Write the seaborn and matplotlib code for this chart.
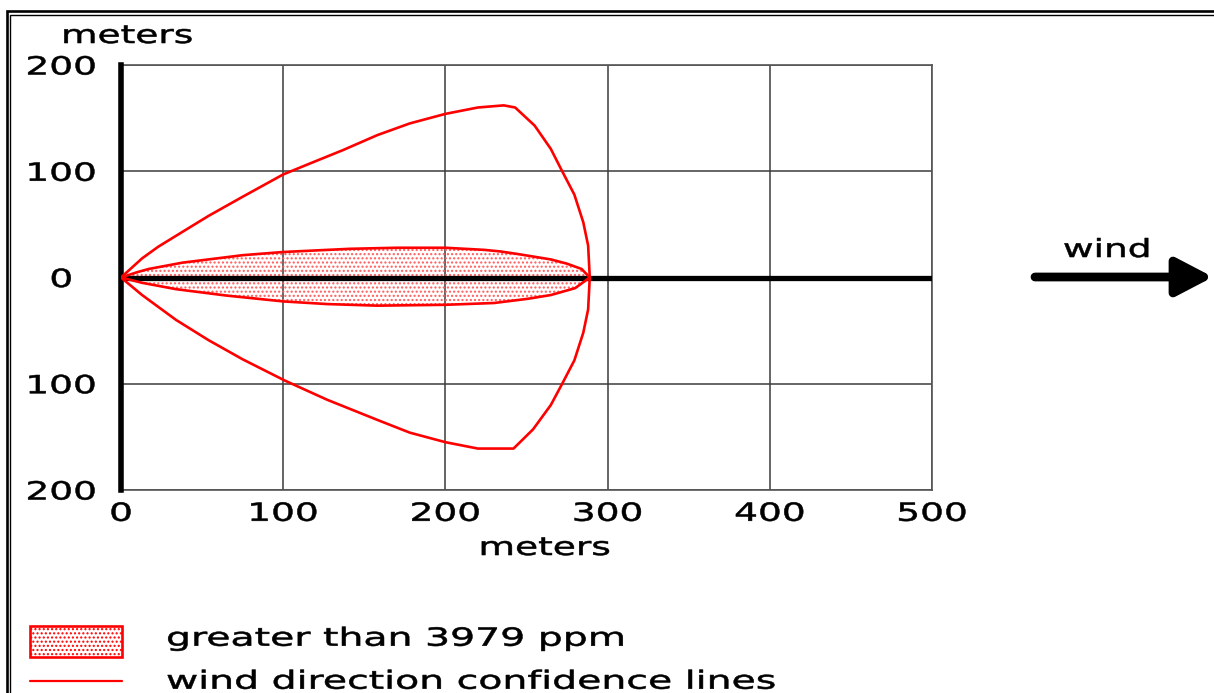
import numpy as np
import pandas as pd
import matplotlib
matplotlib.use("Agg")
import matplotlib.pyplot as plt
import seaborn as sns
from matplotlib import patheffects
from matplotlib.transforms import Affine2D
from matplotlib.patches import Patch, Rectangle
from matplotlib.lines import Line2D

# ---- threat zone data (meters downwind / crosswind) ----
zone_upper_x = [0, 10, 17, 38, 75, 100, 141, 170, 200, 224, 234, 245, 255, 265, 275, 284, 289]
zone_upper_y = [0, 5, 8, 14, 21, 24, 27, 28, 28, 26, 24.5, 22, 19.5, 17, 13, 8, 0]
zone_lower_x = [0, 13, 34, 65, 100, 127, 158, 200, 230, 251, 265, 280, 289]
zone_lower_y = [0, -5, -11, -17, -22.5, -25, -26.5, -25.7, -24, -20, -16.5, -10, 0]

# wind direction confidence lines
conf_upper_x = [0, 13, 23, 39, 54, 75, 100, 116, 137, 158, 178, 200, 220, 236, 243]
conf_upper_y = [0, 18, 29, 44, 58, 76, 97, 107, 120, 134, 145, 154, 160, 162, 160]
conf_arc_x = [243, 255, 265, 272, 279.5, 285, 288, 289, 288, 285, 279.5, 272, 265, 254, 242]
conf_arc_y = [160, 143, 121, 100, 78, 52, 30, 0, -30, -52, -78, -100, -120, -143, -161]
conf_lower_x = [242, 220, 200, 178, 158, 127, 101, 75, 54, 34, 13, 0]
conf_lower_y = [-161, -161, -155, -146, -134, -115, -97, -77, -59, -40, -16.5, 0]

x_ticks = [0, 100, 200, 300, 400, 500]
x_tick_labels = ["0", "100", "200", "300", "400", "500"]
y_ticks = [-200, -100, 0, 100, 200]
y_tick_labels = ["200", "100", "0", "100", "200"]

zone_label = "greater than 3979 ppm"
conf_label = "wind direction confidence lines"


class HStretch(patheffects.AbstractPathEffect):
    """Draw text glyphs widened horizontally around an anchor, lightly emboldened,
    optionally nudged vertically by dy pixels."""

    def __init__(self, sx=1.5, anchor="center", stroke=0.4, dy=0.0):
        super().__init__()
        self._sx = sx
        self._anchor = anchor
        self._stroke = stroke
        self._dy = dy

    def draw_path(self, renderer, gc, tpath, affine, rgbFace=None):
        ext = tpath.get_extents()
        if self._anchor == "left":
            cx = 0.0
        elif self._anchor == "right":
            cx = ext.x1
        else:
            cx = 0.5 * (ext.x0 + ext.x1)
        pre = Affine2D().translate(-cx, 0).scale(self._sx, 1.0).translate(cx, 0)
        post = Affine2D().translate(0, self._dy)
        gc0 = renderer.new_gc()
        gc0.copy_properties(gc)
        if rgbFace is not None:
            gc0.set_foreground(rgbFace)
        gc0.set_linewidth(self._stroke)
        gc0.set_joinstyle("round")
        renderer.draw_path(gc0, tpath, pre + affine + post, rgbFace)
        gc0.restore()


FS = 18
stretch_c = [HStretch(1.5, "center")]
stretch_l = [HStretch(1.575, "left", dy=4.0)]

sns.set_theme(style="white")
plt.rcParams["font.family"] = ["DejaVu Sans"]
plt.rcParams["hatch.linewidth"] = 1.0

W, H = 1214, 693
fig = plt.figure(figsize=(W / 100, H / 100), dpi=100)
fig.patch.set_facecolor("white")

# axes box in pixel terms
left_px, right_px, top_px, bot_px = 121, 932, 65, 490
ax = fig.add_axes([left_px / W, 1 - bot_px / H, (right_px - left_px) / W, (bot_px - top_px) / H])
ax.set_facecolor("white")
ax.set_xlim(0, 500)
ax.set_ylim(-200, 200)

ax.grid(True, color="#3c3c3c", linewidth=1.1, zorder=1)
ax.set_axisbelow(True)
for side in ["top", "right", "bottom"]:
    ax.spines[side].set_color("#555555")
    ax.spines[side].set_linewidth(1.2)
ax.spines["left"].set_color("black")
ax.spines["left"].set_linewidth(4.0)
ax.spines["left"].set_zorder(2.6)
ax.axhline(0, color="black", linewidth=3.8, zorder=2.6)

# threat zone: hatched fill + outline
poly_x = zone_upper_x + zone_lower_x[::-1]
poly_y = zone_upper_y + zone_lower_y[::-1]
ax.fill(poly_x, poly_y, facecolor="none", edgecolor="#ff5a5a", linewidth=0,
        hatch="....", zorder=2)
zone_df = pd.DataFrame({"x": poly_x, "y": poly_y})
sns.lineplot(data=zone_df, x="x", y="y", sort=False, estimator=None,
             color="#ff0000", linewidth=1.9, ax=ax, zorder=3)

# confidence lines
conf_df = pd.DataFrame({
    "x": conf_upper_x + conf_arc_x + conf_lower_x,
    "y": conf_upper_y + conf_arc_y + conf_lower_y,
})
sns.lineplot(data=conf_df, x="x", y="y", sort=False, estimator=None,
             color="#ff0000", linewidth=1.9, ax=ax, zorder=3)

# ticks and labels
ax.set_xticks(x_ticks, x_tick_labels, ha="center", path_effects=stretch_c)
ax.set_yticks(y_ticks, y_tick_labels, ha="center", path_effects=stretch_c)
ax.tick_params(axis="x", length=0, pad=8.5, labelsize=FS, labelcolor="black")
ax.tick_params(axis="y", length=0, pad=43.0, labelsize=FS, labelcolor="black")
ax.set_xlabel("meters", fontsize=FS, color="black", va="baseline", path_effects=stretch_c)
ax.xaxis.set_label_coords((545 - left_px) / (right_px - left_px), -(555 - bot_px) / (bot_px - top_px))
ax.set_ylabel("")

fig.text(127.5 / W, 1 - 43 / H, "meters", ha="center", va="baseline",
         fontsize=FS, color="black", path_effects=stretch_c)

# wind arrow
fig.text(1107 / W, 1 - 257 / H, "wind", ha="center", va="baseline",
         fontsize=FS, color="black", path_effects=stretch_c)
ax.annotate("", xy=(1213 / W, 1 - 277 / H), xytext=(1035 / W, 1 - 277 / H),
            xycoords="figure fraction", textcoords="figure fraction",
            arrowprops=dict(arrowstyle="-|>,head_length=0.44,head_width=0.23",
                            mutation_scale=50, color="black", linewidth=6.3,
                            capstyle="round", joinstyle="round",
                            shrinkA=0, shrinkB=0))

# legend
handles = [
    Patch(facecolor="white", edgecolor="#ff0000", hatch="....", linewidth=1.9),
    Line2D([0], [0], color="#ff0000", linewidth=1.6),
]
leg = fig.legend(handles, [zone_label, conf_label], loc="upper left",
                 bbox_to_anchor=(30 / W, 1 - 626 / H), frameon=False,
                 fontsize=FS, handlelength=3.68, handleheight=1.53,
                 handletextpad=1.76, labelspacing=0.48, borderpad=0,
                 borderaxespad=0)
for t in leg.get_texts():
    t.set_color("black")
    t.set_path_effects(stretch_l)

# double frame around the figure
fig.add_artist(Rectangle((6.5 / W, -0.1), 1.2, 1.1 - 11 / H, transform=fig.transFigure,
                         fill=False, edgecolor="black", linewidth=1.9))
fig.add_artist(Rectangle((10.3 / W, -0.1), 1.2, 1.1 - 15 / H, transform=fig.transFigure,
                         fill=False, edgecolor="black", linewidth=1.0))

fig.savefig("out.png", dpi=100, facecolor="white")
